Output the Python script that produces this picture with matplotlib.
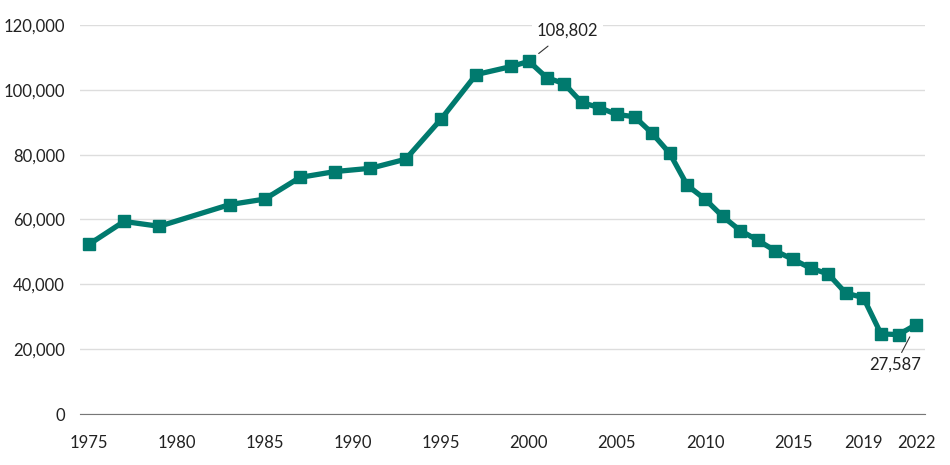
import matplotlib.pyplot as plt
from matplotlib.ticker import FuncFormatter

years = [1975, 1977, 1979, 1983, 1985, 1987, 1989, 1991, 1993, 1995, 1997,
         1999, 2000, 2001, 2002, 2003, 2004, 2005, 2006, 2007, 2008, 2009,
         2010, 2011, 2012, 2013, 2014, 2015, 2016, 2017, 2018, 2019, 2020,
         2021, 2022]
values = [52300, 59400, 57900, 64600, 66300, 73000, 74800, 75800, 78600,
          90900, 104700, 107200, 108802, 103800, 101900, 96100, 94500, 92400,
          91700, 86600, 80400, 70500, 66300, 61000, 56600, 53600, 50300,
          47700, 45000, 43200, 37300, 35900, 24700, 24500, 27587]
xticks = [1975, 1980, 1985, 1990, 1995, 2000, 2005, 2010, 2015, 2019, 2022]
yticks = [0, 20000, 40000, 60000, 80000, 100000, 120000]

plt.rcParams['font.family'] = ['Lato', 'DejaVu Sans']
color = '#007A6E'

fig = plt.figure(figsize=(9.5, 4.65), dpi=100)
ax = fig.add_axes([80 / 950, 1 - 414 / 465, 845 / 950, 389 / 465])

ax.plot(years, values, color=color, lw=3.8, marker='s', ms=8.5,
        solid_joinstyle='miter', zorder=3)

ax.set_xlim(1974.5, 2022.5)
ax.set_ylim(0, 120000)
ax.set_xticks(xticks)
ax.set_yticks(yticks)
ax.yaxis.set_major_formatter(FuncFormatter(lambda v, p: f'{int(v):,}'))
ax.tick_params(length=0, labelsize=12, colors='#222222')
ax.tick_params(axis='x', pad=15)
ax.tick_params(axis='y', pad=11)
ax.grid(axis='y', color='#dddddd', lw=1)
for s in ['top', 'right', 'left']:
    ax.spines[s].set_visible(False)
ax.spines['bottom'].set_color('#777777')
ax.set_axisbelow(True)

# peak and last value labels
ax.annotate(f'{values[12]:,}', xy=(years[12], values[12]),
            xytext=(2002.2, 118300), ha='center', va='center',
            fontsize=12, color='#222222',
            bbox=dict(boxstyle='square,pad=0.3', fc='white', ec='none'),
            arrowprops=dict(arrowstyle='-', color='#333333', lw=0.8,
                            shrinkA=3, shrinkB=9))
ax.annotate(f'{values[-1]:,}', xy=(years[-1], values[-1]),
            xytext=(2020.8, 15100), ha='center', va='center',
            fontsize=12, color='#222222',
            bbox=dict(boxstyle='square,pad=0.2', fc='none', ec='none'),
            arrowprops=dict(arrowstyle='-', color='#333333', lw=0.8,
                            shrinkA=1, shrinkB=10))

fig.savefig('out.png', dpi=100)
